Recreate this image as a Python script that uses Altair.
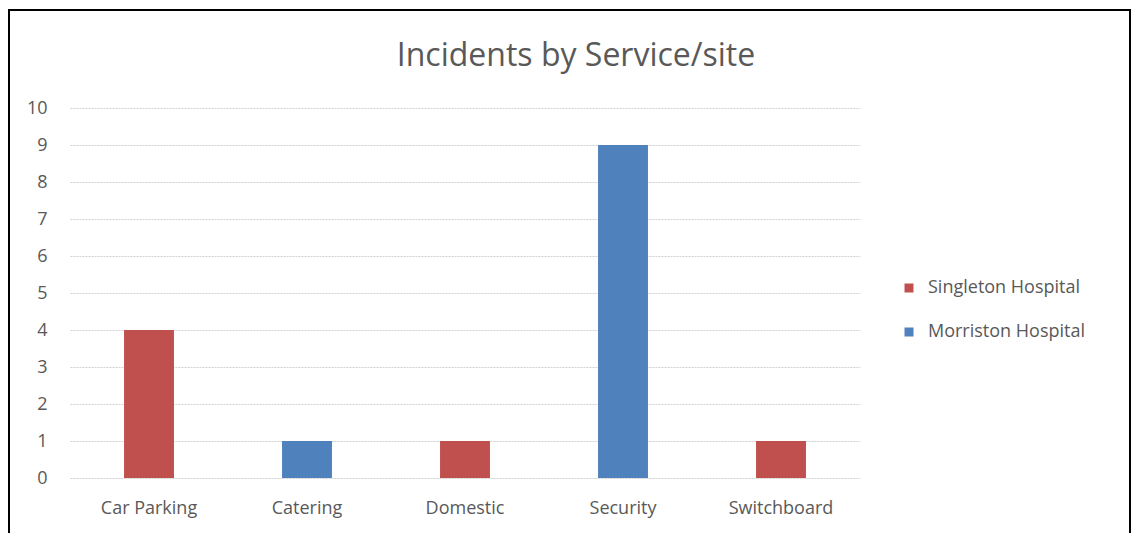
import altair as alt
import pandas as pd

categories = ["Car Parking", "Catering", "Domestic", "Security", "Switchboard"]
sites = ["Singleton Hospital", "Morriston Hospital", "Singleton Hospital", "Morriston Hospital", "Singleton Hospital"]
incidents = [4, 1, 1, 9, 1]

series_order = ["Singleton Hospital", "Morriston Hospital"]
series_colors = ["#C0504D", "#4F81BD"]
y_ticks = list(range(0, 11))

df = pd.DataFrame({"Service": categories, "Site": sites, "Incidents": incidents})
frame_df = pd.DataFrame({"k": [0]})

FONT = "Open Sans"
GREY = "#595959"

bars = alt.Chart(df).mark_bar().encode(
    x=alt.X("Service:N", sort=categories,
            scale=alt.Scale(paddingInner=0.684, paddingOuter=0.342),
            axis=alt.Axis(title=None, labelAngle=0, domain=False, ticks=False, grid=False,
                          labelPadding=21, labelFontSize=18, labelColor=GREY, labelFont=FONT)),
    y=alt.Y("Incidents:Q", scale=alt.Scale(domain=[0, 10], nice=False),
            axis=alt.Axis(title=None, values=y_ticks, domain=False, ticks=False,
                          labelPadding=23, labelFontSize=18, labelColor=GREY, labelFont=FONT,
                          grid=True, gridColor="#D0D0D0", gridDash=[2, 1], gridWidth=1)),
    color=alt.Color("Site:N", scale=alt.Scale(domain=series_order, range=series_colors),
                    sort=series_order,
                    legend=alt.Legend(title=None, orient="none", legendX=830, legendY=171,
                                      symbolType="square", symbolSize=81, symbolStrokeWidth=0,
                                      labelFontSize=18, labelColor=GREY, labelFont=FONT,
                                      labelOffset=10, rowPadding=26)),
)

frame = alt.Chart(frame_df).mark_rect(fill=None, stroke="black", strokeWidth=2, clip=False).encode(
    x=alt.value(-61), x2=alt.value(1060), y=alt.value(-98), y2=alt.value(600)
)

chart = alt.layer(bars, frame).properties(
    width=790, height=370,
    background="white",
    title=alt.Title("Incidents by Service/site", fontSize=32, font=FONT, fontWeight="normal",
                    color=GREY, anchor="middle", frame="group", dx=111, offset=0, dy=64),
    padding={"left": 70, "top": 108, "right": 272, "bottom": 55},
    autosize=alt.AutoSizeParams(type="none"),
).configure_view(strokeWidth=0, stroke="transparent")

chart.save("out.html", embed_options={"renderer": "svg", "actions": False})
